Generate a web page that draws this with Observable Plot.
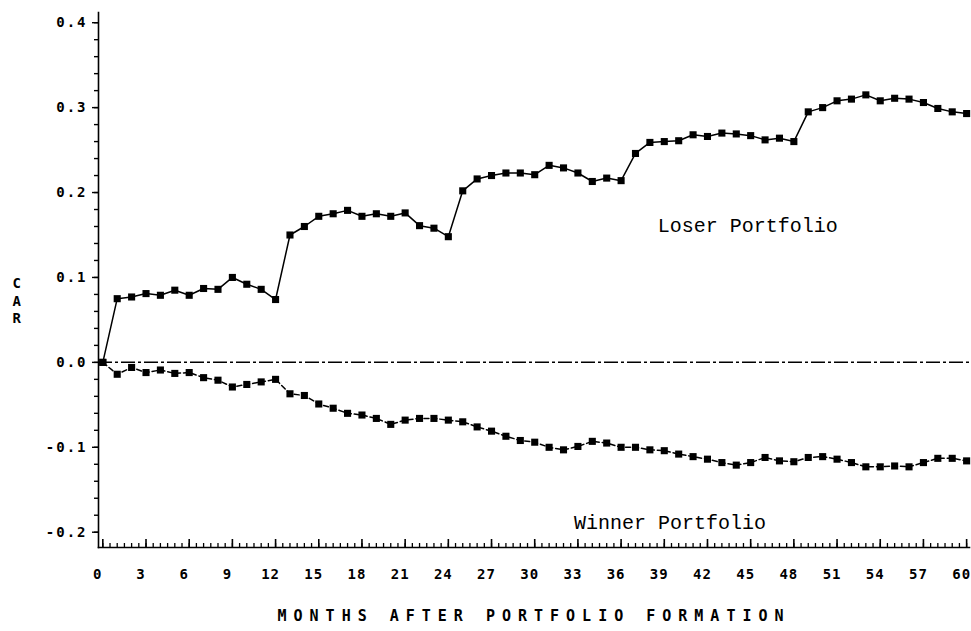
<!DOCTYPE html>
<html>
<head>
<meta charset="utf-8">
<script src="https://cdn.jsdelivr.net/npm/d3@7"></script>
<script src="https://cdn.jsdelivr.net/npm/@observablehq/plot@0.6"></script>
<style>
  html, body { margin: 0; padding: 0; background: #fff; }
  #chart svg { display: block; }
</style>
</head>
<body>
<div id="chart"></div>
<script>
// Months after portfolio formation
const months = d3.range(0, 61);

// Cumulative average residuals (CAR)
const loserCAR = [
  0.000, 0.075, 0.077, 0.081, 0.079, 0.085, 0.079, 0.087, 0.086, 0.100,
  0.092, 0.086, 0.074, 0.150, 0.160, 0.172, 0.175, 0.179, 0.172, 0.175,
  0.172, 0.176, 0.161, 0.158, 0.148, 0.202, 0.216, 0.220, 0.223, 0.223,
  0.221, 0.232, 0.229, 0.223, 0.213, 0.217, 0.214, 0.246, 0.259, 0.260,
  0.261, 0.268, 0.266, 0.270, 0.269, 0.267, 0.262, 0.264, 0.260, 0.295,
  0.300, 0.308, 0.310, 0.315, 0.308, 0.311, 0.310, 0.306, 0.299, 0.295,
  0.293
];
const winnerCAR = [
  0.000, -0.014, -0.006, -0.012, -0.009, -0.013, -0.012, -0.018, -0.021, -0.029,
  -0.026, -0.023, -0.020, -0.037, -0.039, -0.049, -0.054, -0.060, -0.062, -0.066,
  -0.073, -0.068, -0.066, -0.066, -0.068, -0.070, -0.076, -0.081, -0.087, -0.092,
  -0.094, -0.100, -0.103, -0.099, -0.093, -0.095, -0.100, -0.100, -0.103, -0.104,
  -0.108, -0.111, -0.114, -0.118, -0.121, -0.118, -0.112, -0.116, -0.117, -0.112,
  -0.111, -0.114, -0.118, -0.123, -0.123, -0.122, -0.123, -0.118, -0.113, -0.113,
  -0.116
];

// Tick values and labels
const xTicks = d3.range(0, 61, 3);
const xMinorTicks = d3.range(0, 121).map(d => d / 2);
const yTicks = [-0.2, -0.1, 0.0, 0.1, 0.2, 0.3, 0.4];
const yMinorTicks = d3.range(-20, 42, 2).map(d => d / 100);

// Series names and label anchor points (month, CAR)
const seriesNames = ["Loser Portfolio", "Winner Portfolio"];
const labelMonths = [44.8, 39.4];
const labelCAR = [0.161, -0.1886];

const xTitle = "MONTHS AFTER PORTFOLIO FORMATION";
const yTitle = "C\nA\nR";

const loser = months.map((m, i) => ({month: m, car: loserCAR[i]}));
const winner = months.map((m, i) => ({month: m, car: winnerCAR[i]}));
const labels = seriesNames.map((name, i) => ({name, month: labelMonths[i], car: labelCAR[i]}));

const tickFont = "'DejaVu Sans Mono', monospace";

const chart = Plot.plot({
  width: 971,
  height: 631,
  marginLeft: 98,
  marginRight: 2,
  marginTop: 12,
  marginBottom: 84,
  style: {background: "#fff", color: "#000", fontFamily: tickFont},
  x: {domain: [-0.3, 60.2]},
  y: {domain: [-0.218, 0.412]},
  marks: [
    // axis lines
    Plot.frame({anchor: "left", stroke: "#000", strokeWidth: 1.6}),
    Plot.frame({anchor: "bottom", stroke: "#000", strokeWidth: 1.6}),
    // y axis ticks and labels
    Plot.axisY({ticks: yMinorTicks, tickSize: 4, text: null, label: null, strokeWidth: 1.4}),
    Plot.axisY({
      ticks: yTicks, tickSize: 6, tickPadding: 5, strokeWidth: 1.4,
      tickFormat: d => d.toFixed(1), fontSize: 14, fontWeight: "bold", label: null
    }),
    // x axis inward ticks
    Plot.ruleX(xMinorTicks, {insetTop: 531, stroke: "#000", strokeWidth: 1.3}),
    Plot.ruleX(xTicks, {insetTop: 527, stroke: "#000", strokeWidth: 1.6}),
    Plot.axisX({
      ticks: xTicks, tickSize: 0, tickPadding: 22, fontSize: 14, fontWeight: "bold",
      tickFormat: d => String(d), label: null, dx: -5
    }),
    // zero reference line
    Plot.ruleY([0], {stroke: "#000", strokeWidth: 1.5, strokeDasharray: "14,3,3,3"}),
    // series
    Plot.line(loser, {x: "month", y: "car", stroke: "#000", strokeWidth: 1.5}),
    Plot.line(winner, {x: "month", y: "car", stroke: "#000", strokeWidth: 1.5, strokeDasharray: "5,3"}),
    Plot.dot(loser, {x: "month", y: "car", symbol: "square", r: 4, fill: "#000"}),
    Plot.dot(winner, {x: "month", y: "car", symbol: "square", r: 4, fill: "#000"}),
    // series labels
    Plot.text(labels, {
      x: "month", y: "car", text: "name", fontSize: 20,
      fontFamily: "'Liberation Mono', monospace", fill: "#000"
    }),
    // axis titles
    Plot.text([xTitle], {
      frameAnchor: "bottom", dy: 73, text: d => d, fontSize: 15, fontWeight: "bold",
      fontFamily: tickFont, fill: "#000"
    }),
    Plot.text([yTitle], {
      frameAnchor: "left", dx: -86, dy: 20, text: d => d, fontSize: 14, fontWeight: "bold",
      lineHeight: 1.25, fontFamily: tickFont, fill: "#000"
    })
  ]
});

// typewriter-like letter spacing for the axis texts
d3.select(chart).selectAll("g[aria-label='y-axis tick label'] text").style("letter-spacing", "2px");
d3.select(chart).selectAll("g[aria-label='x-axis tick label'] text").style("letter-spacing", "1px");
d3.select(chart).selectAll("text").filter(function() { return this.textContent === xTitle; })
  .style("letter-spacing", "7px");

document.getElementById("chart").appendChild(chart);
</script>
</body>
</html>
